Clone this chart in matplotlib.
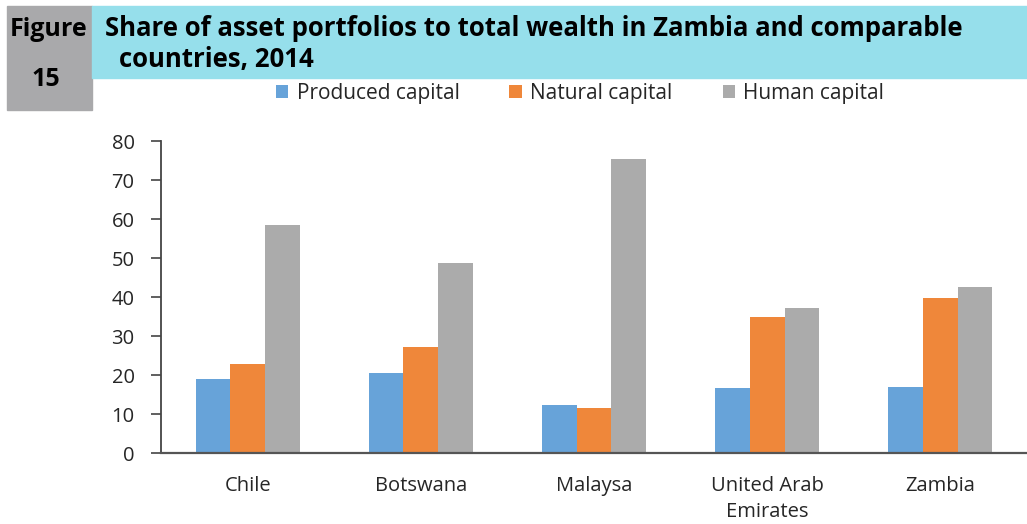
import numpy as np
import matplotlib
matplotlib.use("Agg")
import matplotlib.pyplot as plt
from matplotlib.patches import Rectangle

countries = ["Chile", "Botswana", "Malaysa", "United Arab\nEmirates", "Zambia"]
produced = [19.0, 20.6, 12.5, 16.7, 17.1]
natural = [22.9, 27.3, 11.6, 34.9, 39.8]
human = [58.5, 48.9, 75.5, 37.3, 42.7]
series_names = ["Produced capital", "Natural capital", "Human capital"]
colors = ["#67a3d9", "#ef873a", "#ababab"]

plt.rcParams["font.family"] = ["Open Sans", "DejaVu Sans"]

fig = plt.figure(figsize=(10.27, 5.24), dpi=100)

# header band
fig.patches.append(Rectangle((7 / 1027, 1 - 110 / 524), 85 / 1027, 104 / 524,
                             transform=fig.transFigure, color="#a9a9ab", zorder=0))
fig.patches.append(Rectangle((92 / 1027, 1 - 78 / 524), 1 - 92 / 1027, 72 / 524,
                             transform=fig.transFigure, color="#96dfeb", zorder=0))
fig.text(49 / 1027, 1 - 29 / 524, "Figure", fontsize=18, fontweight="bold",
         ha="center", va="center")
fig.text(46 / 1027, 1 - 80 / 524, "15", fontsize=18, fontweight="bold",
         ha="center", va="center")
fig.text(105 / 1027, 1 - 29 / 524, "Share of asset portfolios to total wealth in Zambia and comparable",
         fontsize=18.5, fontweight="bold", ha="left", va="center")
fig.text(119 / 1027, 1 - 59 / 524, "countries, 2014",
         fontsize=18.5, fontweight="bold", ha="left", va="center")

ax = fig.add_axes([161 / 1027, 1 - 453.3 / 524, 1 - 161 / 1027, 312 / 524])

x = np.arange(len(countries))
w = 0.2
for i, (vals, name, c) in enumerate(zip([produced, natural, human], series_names, colors)):
    ax.bar(x + (i - 1) * w, vals, w, color=c, label=name, zorder=2)

ax.set_xlim(-0.5, len(countries) - 0.5)
ax.set_ylim(0, 80)
ax.set_yticks(range(0, 81, 10))
ax.set_xticks(x)
ax.set_xticklabels(countries, fontsize=14.5, color="#262626", linespacing=1.4)
ax.tick_params(axis="x", length=0, pad=16)
ax.tick_params(axis="y", length=7, width=1.2, color="#444444", labelsize=14.5,
               labelcolor="#262626", pad=12)
for s in ["top", "right"]:
    ax.spines[s].set_visible(False)
ax.spines["left"].set_color("#444444")
ax.spines["left"].set_linewidth(1.3)
ax.spines["bottom"].set_color("#555555")
ax.spines["bottom"].set_linewidth(1.6)

fig.legend(loc="center", bbox_to_anchor=(580 / 1027, 1 - 93 / 524), ncol=3,
           frameon=False, fontsize=15, handlelength=0.6, handleheight=0.6,
           handletextpad=0.4, columnspacing=2.4, labelcolor="#262626")

fig.savefig("out.png", dpi=100)
